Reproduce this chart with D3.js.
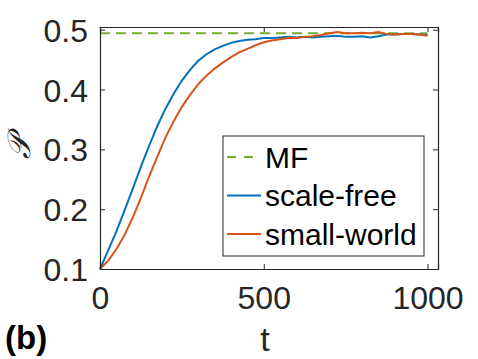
<!DOCTYPE html>
<html>
<head>
<meta charset="utf-8">
<script src="https://cdn.jsdelivr.net/npm/d3@7"></script>
<style>
  body { margin: 0; background: #fff; }
  svg { display: block; font-family: "Liberation Sans", Arial, Helvetica, sans-serif; }
</style>
</head>
<body>
<div id="chart"></div>
<script>
// time steps
var tValues = [0, 25, 50, 75, 100, 125, 150, 175, 200, 225, 250, 275, 300, 325, 350, 375, 400,
    425, 450, 475, 500, 525, 550, 575, 600, 625, 650, 675, 700, 725, 750, 775, 800,
    825, 850, 875, 900, 925, 950, 975, 1000];

var scaleFree = [0.100, 0.131, 0.163, 0.198, 0.234, 0.271, 0.306, 0.339, 0.368, 0.393, 0.415,
    0.433, 0.448, 0.459, 0.467, 0.473, 0.478, 0.481, 0.483, 0.484, 0.486, 0.486, 0.487,
    0.488, 0.487, 0.488, 0.487, 0.488, 0.489, 0.490, 0.488, 0.488, 0.489, 0.487, 0.489,
    0.492, 0.492, 0.493, 0.493, 0.492, 0.491];

var smallWorld = [0.100, 0.114, 0.133, 0.157, 0.186, 0.219, 0.255, 0.288, 0.320, 0.347, 0.371,
    0.391, 0.409, 0.423, 0.435, 0.445, 0.454, 0.462, 0.468, 0.474, 0.479, 0.482, 0.484,
    0.486, 0.486, 0.488, 0.489, 0.491, 0.494, 0.496, 0.494, 0.494, 0.495, 0.494, 0.496,
    0.493, 0.492, 0.493, 0.493, 0.492, 0.490];

var mfValue = 0.494;

var xTicks = [0, 500, 1000];
var yTicks = [0.1, 0.2, 0.3, 0.4, 0.5];
var legendLabels = ["MF", "scale-free", "small-world"];

var colors = { mf: "#77AC30", sf: "#0072BD", sw: "#D95319" };
var axisColor = "#262626";

var margin = { top: 27, right: 40, bottom: 90, left: 100 };
var width = 478 - margin.left - margin.right,
    height = 359 - margin.top - margin.bottom;

var svg = d3.select("#chart").append("svg")
    .attr("width", 478)
    .attr("height", 359);

var g = svg.append("g")
    .attr("transform", "translate(" + margin.left + "," + margin.top + ")");

var x = d3.scaleLinear()
    .domain([0, 1032])
    .range([0, width]);

var y = d3.scaleLinear()
    .domain([0.1, 0.5045])
    .range([height, 0]);

// lines
var line = d3.line()
    .x(function(d) { return x(d[0]); })
    .y(function(d) { return y(d[1]); });

var sfData = tValues.map(function(t, i) { return [t, scaleFree[i]]; });
var swData = tValues.map(function(t, i) { return [t, smallWorld[i]]; });

g.append("path")
    .datum([[0, mfValue], [1000, mfValue]])
    .attr("d", line)
    .attr("fill", "none")
    .attr("stroke", colors.mf)
    .attr("stroke-width", 2)
    .attr("stroke-dasharray", "10,6");

g.append("path")
    .datum(sfData)
    .attr("d", line)
    .attr("fill", "none")
    .attr("stroke", colors.sf)
    .attr("stroke-width", 2);

g.append("path")
    .datum(swData)
    .attr("d", line)
    .attr("fill", "none")
    .attr("stroke", colors.sw)
    .attr("stroke-width", 2);

// axes (ticks inward, mirrored on top/right)
var xAxis = d3.axisBottom(x).tickValues(xTicks).tickSize(-5).tickPadding(17)
    .tickFormat(d3.format("d"));
var yAxis = d3.axisLeft(y).tickValues(yTicks).tickSize(-5).tickPadding(12)
    .tickFormat(d3.format(".1f"));

var gx = g.append("g")
    .attr("transform", "translate(0," + height + ")")
    .call(xAxis);
var gy = g.append("g").call(yAxis);

g.append("g").call(d3.axisTop(x).tickValues(xTicks).tickSize(-5).tickFormat(""));
g.append("g").attr("transform", "translate(" + width + ",0)")
    .call(d3.axisRight(y).tickValues(yTicks).tickSize(-5).tickFormat(""));

g.selectAll(".domain").attr("stroke", axisColor).attr("stroke-width", 1.2);
g.selectAll(".tick line").attr("stroke", axisColor).attr("stroke-width", 1);
g.selectAll(".tick text")
    .attr("fill", axisColor)
    .style("font-size", "32px")
    .style("font-family", "'Liberation Sans', Arial, sans-serif");
gx.selectAll(".tick text").attr("dy", "0.71em");
gy.selectAll(".tick text").attr("dy", "0.36em");

// axis labels
svg.append("text")
    .attr("x", 265)
    .attr("y", 351)
    .attr("text-anchor", "middle")
    .attr("fill", axisColor)
    .style("font-size", "34px")
    .text("t");

svg.append("text")
    .attr("transform", "translate(30,147) rotate(-90)")
    .attr("text-anchor", "middle")
    .attr("fill", axisColor)
    .style("font-size", "32px")
    .style("font-family", "'Liberation Serif', serif")
    .style("font-style", "italic")
    .text("\uD835\uDCAB");

svg.append("text")
    .attr("x", 5)
    .attr("y", 349)
    .attr("fill", "#000")
    .style("font-size", "33px")
    .style("font-weight", "bold")
    .text("(b)");

// legend
var legend = g.append("g")
    .attr("transform", "translate(" + (223 - margin.left) + "," + (136 - margin.top) + ")");

legend.append("rect")
    .attr("width", 201)
    .attr("height", 120)
    .attr("fill", "#fff")
    .attr("stroke", axisColor)
    .attr("stroke-width", 1);

var legendColors = [colors.mf, colors.sf, colors.sw];
legendLabels.forEach(function(label, i) {
    var ly = 21 + i * 38.5;
    legend.append("line")
        .attr("x1", 4).attr("x2", 38)
        .attr("y1", ly).attr("y2", ly)
        .attr("stroke", legendColors[i])
        .attr("stroke-width", 2)
        .attr("stroke-dasharray", i === 0 ? "9,8" : null);
    legend.append("text")
        .attr("x", 42)
        .attr("y", ly)
        .attr("dy", "0.35em")
        .attr("fill", "#000")
        .style("font-size", "30px")
        .text(label);
});
</script>
</body>
</html>
